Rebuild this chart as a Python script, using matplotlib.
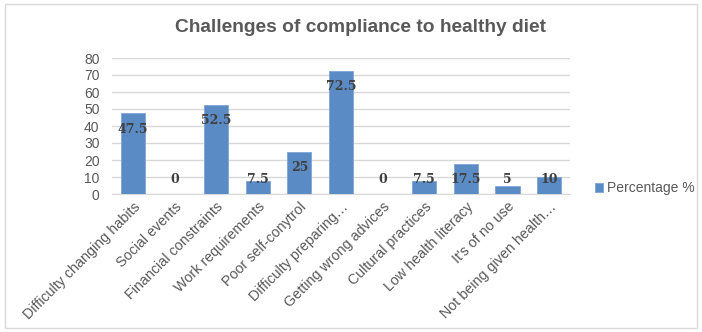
import matplotlib.pyplot as plt
from matplotlib.patches import Rectangle

categories = ['Difficulty changing habits', 'Social events', 'Financial constraints',
              'Work requirements', 'Poor self-conytrol', 'Difficulty preparing\u2026',
              'Getting wrong advices', 'Cultural practices', 'Low health literacy',
              "It's of no use", 'Not being given health\u2026']
percentage = [47.5, 0, 52.5, 7.5, 25, 72.5, 0, 7.5, 17.5, 5, 10]

bar_color = '#5b8bc5'
text_gray = '#595959'

fig = plt.figure(figsize=(7.02, 3.32), dpi=100)
fig.patches.append(Rectangle((0.007, 0.012), 0.986, 0.976, transform=fig.transFigure,
                             fill=False, edgecolor='#d9d9d9', linewidth=1))
ax = fig.add_axes([112 / 702, 1 - 194 / 332, (570 - 112) / 702, (194 - 58) / 332])

x = range(len(categories))
ax.bar(x, percentage, width=0.58, color=bar_color, edgecolor='#7fa6d6', linewidth=0.6,
       label='Percentage %', zorder=3)

for i, v in enumerate(percentage):
    ax.text(i, max(v - 9.5, 8.8), f'{v:g}', ha='center', va='center',
            family='DejaVu Serif', fontweight='bold', fontsize=9, color='#404040', zorder=4)

ax.set_xlim(-0.5, len(categories) - 0.5)
ax.set_ylim(0, 80)
ax.set_yticks(range(0, 81, 10))
ax.grid(axis='y', color='#d9d9d9', linewidth=1, zorder=0)
for s in ax.spines.values():
    s.set_visible(False)
ax.spines['bottom'].set_visible(True)
ax.spines['bottom'].set_color('#d9d9d9')
ax.tick_params(axis='both', length=0, colors=text_gray, labelsize=10)
ax.tick_params(axis='y', pad=9)
ax.tick_params(axis='x', pad=4)
ax.set_xticks(list(x))
ax.set_xticklabels(categories, rotation=45, ha='right', va='top', rotation_mode='anchor',
                   fontsize=10.3, family='Liberation Sans')
for lab in ax.get_yticklabels():
    lab.set_family('Liberation Sans')

fig.text(0.513, 0.916, 'Challenges of compliance to healthy diet', ha='center', va='center',
         fontsize=13.8, fontweight='bold', color=text_gray, family='Liberation Sans')

fig.legend(loc='center left', bbox_to_anchor=(582 / 702, 1 - 188 / 332), frameon=False,
           handlelength=0.6, handleheight=0.6, handletextpad=0.3,
           prop={'family': 'Liberation Sans', 'size': 10}, labelcolor=text_gray)

fig.savefig('out.png', dpi=100)
